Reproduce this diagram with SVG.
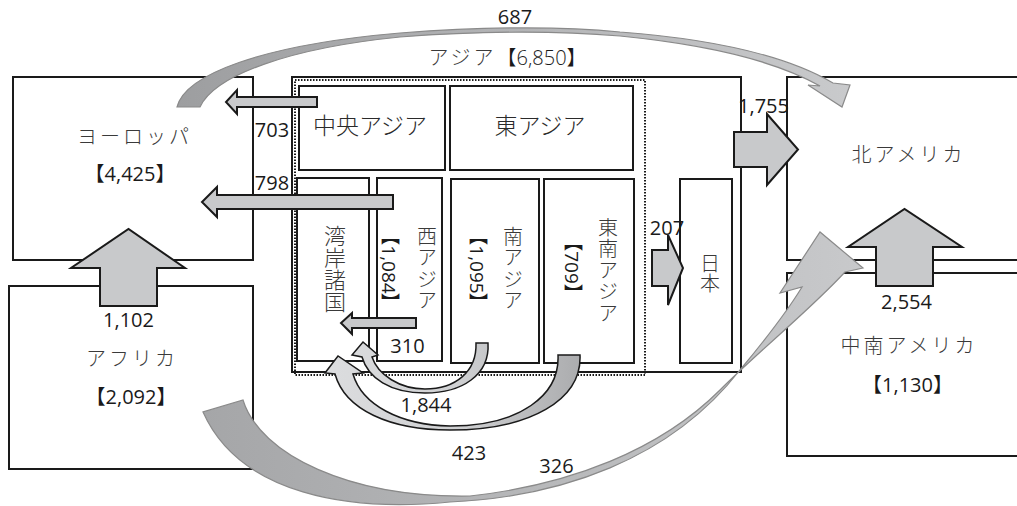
<svg xmlns="http://www.w3.org/2000/svg" width="1017" height="506" viewBox="0 0 1017 506">
<style>
.box{fill:#fff;stroke:#1a1a1a;stroke-width:2}
.dot{fill:none;stroke:#1a1a1a;stroke-width:2;stroke-dasharray:1.5 1.5}
.blk{fill:#c8c9cb;stroke:#1a1a1a;stroke-width:2;stroke-linejoin:miter}
.num{font-family:"Open Sans","Noto Sans CJK JP",sans-serif;font-size:20px;fill:#1a1a1a;text-anchor:middle}
.jp{font-family:"Noto Sans CJK JP",sans-serif;font-size:20px;font-weight:300;fill:#3a3a3a;letter-spacing:3px;text-anchor:middle}
.sub{font-family:"Noto Sans CJK JP",sans-serif;font-size:23px;font-weight:300;fill:#2a2a2a;text-anchor:middle}
.vt{font-family:"Noto Sans CJK JP",sans-serif;font-size:20px;font-weight:300;fill:#3a3a3a;writing-mode:vertical-rl;text-anchor:middle;letter-spacing:1.5px}
.vn{font-family:"Open Sans","Noto Sans CJK JP",sans-serif;font-size:19px;fill:#1a1a1a;writing-mode:vertical-rl;text-anchor:middle}
</style>
<defs>
<linearGradient id="gTop" gradientUnits="userSpaceOnUse" x1="177" y1="0" x2="850" y2="0">
<stop offset="0" stop-color="#9d9ea0"/><stop offset="1" stop-color="#c9cacc"/>
</linearGradient>
<linearGradient id="gBot" gradientUnits="userSpaceOnUse" x1="203" y1="0" x2="863" y2="0">
<stop offset="0" stop-color="#a5a6a8"/><stop offset="1" stop-color="#c8c9cb"/>
</linearGradient>
<linearGradient id="gIn" gradientUnits="userSpaceOnUse" x1="325" y1="0" x2="585" y2="0">
<stop offset="0" stop-color="#dcdddf"/><stop offset="0.5" stop-color="#d0d1d3"/><stop offset="1" stop-color="#aaabad"/>
</linearGradient>
</defs>

<g id="europe"><rect class="box" x="13" y="77" width="240" height="183"/>
<text class="jp" x="134.5" y="144">ヨーロッパ</text><text class="num" x="130" y="181">【4,425】</text></g>
<g id="africa"><rect class="box" x="9" y="286" width="244" height="183"/>
<text class="jp" x="132" y="366">アフリカ</text><text class="num" x="131" y="404">【2,092】</text></g>
<g id="north-america"><rect class="box" x="787" y="77" width="240" height="183"/>
<text class="jp" x="908.5" y="162">北アメリカ</text></g>
<g id="latin-america"><rect class="box" x="787" y="273" width="240" height="183"/>
<text class="jp" x="909" y="353">中南アメリカ</text><text class="num" x="907.5" y="392">【1,130】</text></g>

<g id="asia"><rect class="box" x="292" y="77" width="449" height="295"/>
<rect class="dot" x="295" y="80" width="350" height="295"/>
<text class="jp" x="507.5" y="65">アジア<tspan class="num" style="letter-spacing:0">【6,850】</tspan></text></g>
<g id="central-asia"><rect class="box" x="299" y="86" width="146" height="84"/><text class="sub" x="370" y="134">中央アジア</text></g>
<g id="east-asia"><rect class="box" x="450" y="86" width="183" height="84"/><text class="sub" x="540" y="134">東アジア</text></g>
<g id="gulf"><rect class="box" x="297" y="178" width="72" height="183"/><text class="vt" x="335" y="269" style="font-size:22px;letter-spacing:0">湾岸諸国</text></g>
<g id="west-asia"><rect class="box" x="377" y="178" width="65" height="183"/>
<text class="vt" x="427" y="269">西アジア</text><text class="vn" x="389" y="269.5">【1,084】</text></g>
<g id="south-asia"><rect class="box" x="451" y="179" width="88" height="184"/>
<text class="vt" x="513" y="269">南アジア</text><text class="vn" x="477" y="269.5">【1,095】</text></g>
<g id="southeast-asia"><rect class="box" x="544" y="179" width="90" height="184"/>
<text class="vt" x="608" y="271">東南アジア</text><text class="vn" x="572" y="267.5">【709】</text></g>
<g id="japan"><rect class="box" x="680" y="179" width="52" height="184"/><text class="vt" x="710" y="273" style="letter-spacing:0">日本</text></g>

<g id="connectors">
<path fill="url(#gTop)" stroke="#8a8a8a" stroke-width="1.2" d="M177,107 C185,75 260,45 400,33 C480,27 560,26 620,32 C700,38 780,52 833,83 L850,85 L842,107 L808,85 L820,86 C770,58 700,44 620,36 C560,31 480,31 400,37 C290,48 215,75 200,107 Z"/>
<path fill="url(#gBot)" stroke="#8a8a8a" stroke-width="1.2" d="M203,412 C240,495 350,512 450,502 C560,497 670,460 740,370 C765,340 785,315 802,287 L780,293 L820,232 L863,268 L845,272 C810,310 760,350 720,390 C660,450 570,485 470,496 C350,498 260,455 243,400 Z"/>
<path fill="url(#gIn)" stroke="#1a1a1a" stroke-width="1.5" d="M580,355 C582,400 530,430 450,430 C390,430 345,410 335,374 L325,373 L338,356 L363,373 L353,374 C362,405 400,425 450,426 C520,426 560,395 558,355 Z"/>
<path fill="url(#gIn)" stroke="#1a1a1a" stroke-width="1.5" d="M488,343 C490,375 462,393 425,393 C390,393 368,378 362,357 L352,355 L363,342 L378,355 L372,357 C378,375 400,389 425,389 C455,389 477,372 476,343 Z"/>
<polygon class="blk" points="317,97 237,97 237,90 226,102 237,114 237,107 317,107"/>
<polygon class="blk" points="393,195 217,195 217,187 202,202 217,217 217,209 393,209"/>
<polygon class="blk" points="416,318 352,318 352,313 341,323 352,334 352,328 416,328"/>
<polygon class="blk" points="734,132 767,132 767,114 798,149.5 767,185 767,167 734,167"/>
<polygon class="blk" points="652,250 668,250 668,235 683,268 668,305 668,286 652,286"/>
<polygon class="blk" points="100,306 100,268 71,268 128.5,229 185,268 157,268 157,306"/>
<polygon class="blk" points="876,286 876,247 848,247 904.5,209 962,247 933,247 933,286"/>
<text class="num" x="515" y="24">687</text>
<text class="num" x="272" y="137">703</text>
<text class="num" x="272" y="190">798</text>
<text class="num" x="763.5" y="113">1,755</text>
<text class="num" x="667" y="235">207</text>
<text class="num" x="128.5" y="327">1,102</text>
<text class="num" x="407.5" y="353">310</text>
<text class="num" x="906.5" y="309">2,554</text>
<text class="num" x="426" y="412">1,844</text>
<text class="num" x="469" y="460">423</text>
<text class="num" x="556.5" y="473">326</text>
</g>
</svg>
